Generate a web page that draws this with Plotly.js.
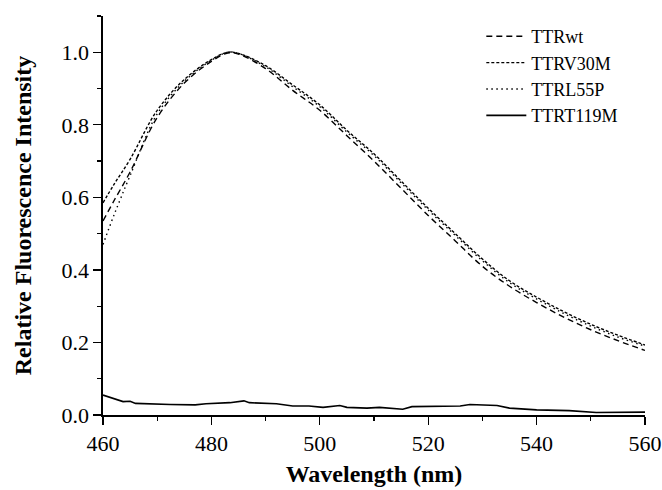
<!DOCTYPE html>
<html>
<head>
<meta charset="utf-8">
<script src="https://cdn.plot.ly/plotly-3.0.1.min.js"></script>
<style>html,body{margin:0;padding:0;background:#fff;}#chart{width:662px;height:490px;}</style>
</head>
<body>
<div id="chart"></div>
<script>
const wl = [460, 462, 465, 470, 475, 480, 483, 485, 490, 495, 500, 505, 510, 515, 520, 525, 530, 535, 540, 545, 550, 555, 560];
const ttrWt   = [0.535, 0.59, 0.67, 0.82, 0.915, 0.975, 0.998, 0.995, 0.955, 0.895, 0.84, 0.77, 0.70, 0.625, 0.55, 0.48, 0.41, 0.355, 0.31, 0.27, 0.235, 0.205, 0.178];
const ttrV30M = [0.585, 0.635, 0.705, 0.84, 0.925, 0.98, 1.0, 0.997, 0.963, 0.91, 0.855, 0.785, 0.72, 0.645, 0.57, 0.50, 0.43, 0.37, 0.325, 0.285, 0.25, 0.22, 0.193];
const ttrL55P = [0.47, 0.55, 0.66, 0.83, 0.92, 0.978, 1.0, 0.997, 0.96, 0.905, 0.85, 0.78, 0.715, 0.64, 0.565, 0.495, 0.425, 0.365, 0.32, 0.28, 0.245, 0.215, 0.19];

const wlT = [460, 463.7, 465, 466, 472.4, 477, 479, 483.4, 486, 487, 492, 495, 498, 500.6, 503.7, 505, 508.7, 511, 515.3, 517, 525.9, 527.7, 532.7, 535, 540, 543, 546, 551, 556, 560];
const ttrT119M = [0.055, 0.037, 0.038, 0.032, 0.029, 0.028, 0.031, 0.034, 0.039, 0.034, 0.031, 0.025, 0.025, 0.021, 0.026, 0.021, 0.019, 0.021, 0.016, 0.023, 0.025, 0.029, 0.026, 0.019, 0.014, 0.014, 0.012, 0.007, 0.008, 0.008];

const names = ['TTRwt', 'TTRV30M', 'TTRL55P', 'TTRT119M'];
const xTicks = [460, 480, 500, 520, 540, 560];
const yTicks = [0.0, 0.2, 0.4, 0.6, 0.8, 1.0];

const traces = [
  {x: wl, y: ttrWt, name: names[0], mode: 'lines', line: {color: '#000', width: 1.4, dash: '6px,4px', shape: 'spline'}},
  {x: wl, y: ttrV30M, name: names[1], mode: 'lines', line: {color: '#000', width: 1.4, dash: '3px,2px', shape: 'spline'}},
  {x: wl, y: ttrL55P, name: names[2], mode: 'lines', line: {color: '#000', width: 1.4, dash: '1.5px,3.5px', shape: 'spline'}},
  {x: wlT, y: ttrT119M, name: names[3], mode: 'lines', line: {color: '#000', width: 1.6}}
];

const font = {family: 'Liberation Serif, Times New Roman, serif', color: '#000'};

const layout = {
  width: 662, height: 490,
  margin: {l: 103, r: 17, t: 16, b: 75},
  paper_bgcolor: '#fff', plot_bgcolor: '#fff',
  font: Object.assign({size: 18}, font),
  showlegend: true,
  legend: {x: 0.698, y: 0.995, xanchor: 'left', yanchor: 'top', bgcolor: 'rgba(0,0,0,0)',
           font: Object.assign({size: 18}, font), tracegroupgap: 0, itemwidth: 40},
  xaxis: {
    range: [460, 560], tickvals: xTicks, ticktext: xTicks.map(String),
    ticks: 'outside', ticklen: 8, tickwidth: 1.3, tickcolor: '#000',
    minor: {dtick: 10, ticks: 'outside', ticklen: 4, tickwidth: 1.3, tickcolor: '#000'},
    showline: true, linewidth: 1.6, linecolor: '#000', showgrid: false, zeroline: false,
    tickfont: Object.assign({size: 22}, font),
    title: {text: '<b>Wavelength (nm)</b>', font: Object.assign({size: 24}, font), standoff: 10}
  },
  yaxis: {
    range: [0, 1.1], tickvals: yTicks, ticktext: yTicks.map(v => v.toFixed(1)),
    ticks: 'outside', ticklen: 8, tickwidth: 1.3, tickcolor: '#000',
    minor: {dtick: 0.1, ticks: 'outside', ticklen: 4, tickwidth: 1.3, tickcolor: '#000'},
    showline: true, linewidth: 1.6, linecolor: '#000', showgrid: false, zeroline: false,
    tickfont: Object.assign({size: 22}, font),
    title: {text: '<b>Relative Fluorescence Intensity</b>', font: Object.assign({size: 24}, font), standoff: 23}
  },
  xaxis2: {
    overlaying: 'x', side: 'top', anchor: 'y', range: [460, 560], dtick: 10, tick0: 460,
    ticks: 'inside', ticklen: 4, tickwidth: 1.3, tickcolor: '#000', showticklabels: false,
    showline: true, linewidth: 1.6, linecolor: '#000', showgrid: false, zeroline: false
  },
  yaxis2: {
    overlaying: 'y', side: 'right', anchor: 'x', range: [0, 1.1], dtick: 0.1, tick0: 0,
    ticks: 'inside', ticklen: 4, tickwidth: 1.3, tickcolor: '#000', showticklabels: false,
    showline: true, linewidth: 1.6, linecolor: '#000', showgrid: false, zeroline: false
  }
};

Plotly.newPlot('chart', traces, layout, {staticPlot: true, displayModeBar: false});
</script>
</body>
</html>
